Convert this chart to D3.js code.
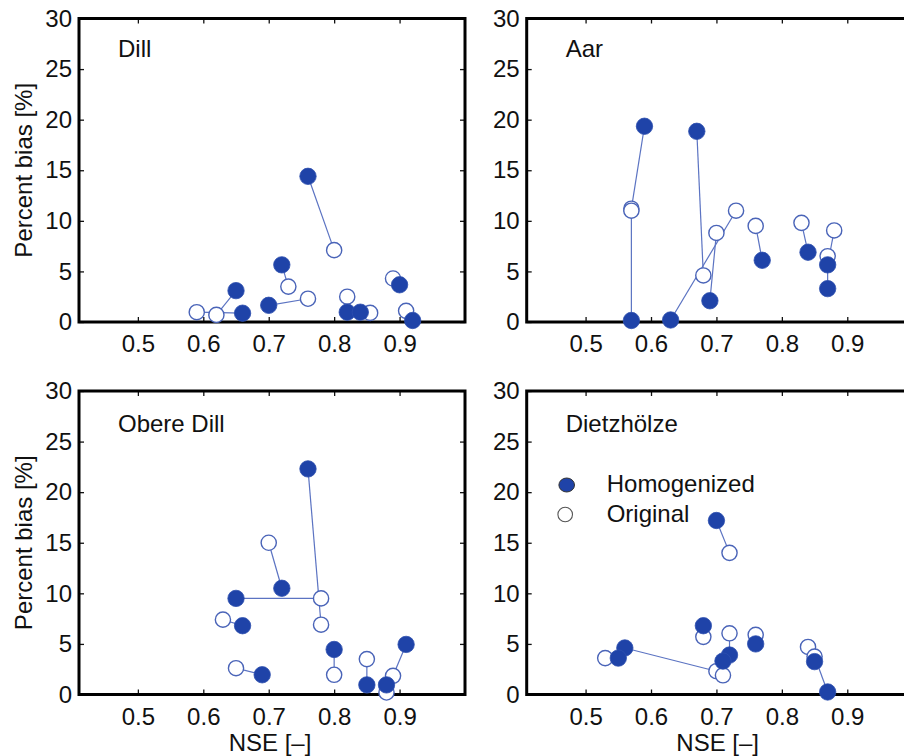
<!DOCTYPE html>
<html>
<head>
<meta charset="utf-8">
<script src="https://cdn.jsdelivr.net/npm/d3@7"></script>
<style>
  html, body { margin: 0; padding: 0; background: #fff; }
  svg { display: block; font-family: "Liberation Sans", Arial, Helvetica, sans-serif; }
</style>
</head>
<body>
<svg id="chart" width="904" height="756"></svg>
<script>
// Catchment names, one panel each
const catchments = ["Dill", "Aar", "Obere Dill", "Dietzhölze"];

// [NSE, percent bias] for each model run; homogenized[i] pairs with original[i]
const dillHomogenized = [[0.76, 14.4], [0.72, 5.65], [0.70, 1.65], [0.65, 3.1], [0.66, 0.87], [0.82, 0.97], [0.84, 0.97], [0.90, 3.68], [0.92, 0.15]];
const dillOriginal    = [[0.80, 7.1], [0.73, 3.5], [0.76, 2.3], [0.62, 0.7], [0.59, 0.97], [0.82, 2.5], [0.855, 0.9], [0.89, 4.3], [0.91, 1.1]];

const aarHomogenized = [[0.59, 19.35], [0.57, 0.15], [0.67, 18.85], [0.69, 2.1], [0.63, 0.2], [0.77, 6.1], [0.84, 6.9], [0.87, 5.65], [0.87, 3.3]];
const aarOriginal    = [[0.57, 11.2], [0.57, 11.0], [0.68, 4.6], [0.70, 8.8], [0.73, 11.0], [0.76, 9.5], [0.83, 9.8], [0.88, 9.05], [0.87, 6.5]];

const obereDillHomogenized = [[0.76, 22.3], [0.65, 9.5], [0.72, 10.5], [0.66, 6.8], [0.69, 1.95], [0.80, 4.45], [0.85, 0.95], [0.88, 0.95], [0.91, 4.95]];
const obereDillOriginal    = [[0.78, 6.9], [0.78, 9.5], [0.70, 15.0], [0.63, 7.4], [0.65, 2.6], [0.80, 1.95], [0.85, 3.5], [0.88, 0.2], [0.89, 1.85]];

const dietzhoelzeHomogenized = [[0.70, 17.2], [0.68, 6.8], [0.56, 4.6], [0.55, 3.6], [0.72, 3.9], [0.71, 3.3], [0.76, 5.0], [0.85, 3.25], [0.87, 0.25]];
const dietzhoelzeOriginal    = [[0.72, 14.0], [0.68, 5.7], [0.70, 2.3], [0.53, 3.6], [0.72, 6.05], [0.71, 1.9], [0.76, 5.9], [0.84, 4.7], [0.85, 3.75]];

// Axis ticks
const nseTicks = [0.5, 0.6, 0.7, 0.8, 0.9];
const biasTicks = [0, 5, 10, 15, 20, 25, 30];

const legendLabels = ["Homogenized", "Original"];
const xTitle = "NSE [–]";
const yTitle = "Percent bias [%]";

const homogenizedSets = [dillHomogenized, aarHomogenized, obereDillHomogenized, dietzhoelzeHomogenized];
const originalSets = [dillOriginal, aarOriginal, obereDillOriginal, dietzhoelzeOriginal];

// Layout
const panelW = 386, panelH = 303.5;
const panelOrigins = [[79, 18.5], [526.7, 18.5], [79, 391], [526.7, 391]];
const fontSize = 24;
const FILL = "#1f43a8", OPEN_STROKE = "#4a64b8", LINK = "#5b73c2";

const svg = d3.select("#chart");
svg.append("rect").attr("width", 904).attr("height", 756).attr("fill", "#fff");

const x = d3.scaleLinear().domain([0.41, 1.0]).range([0, panelW]);
const y = d3.scaleLinear().domain([0, 30]).range([panelH, 0]);

catchments.forEach((name, i) => {
  const [ox, oy] = panelOrigins[i];
  const g = svg.append("g").attr("transform", `translate(${ox},${oy})`);
  const hom = homogenizedSets[i], org = originalSets[i];

  // inward tick marks on all four sides
  const styleAxis = sel => {
    sel.select(".domain").remove();
    sel.selectAll(".tick line").attr("stroke", "#111").attr("stroke-width", 1.3);
    sel.selectAll(".tick text").attr("fill", "#111").style("font-size", fontSize + "px")
      .style("font-family", '"Liberation Sans", Arial, Helvetica, sans-serif');
  };
  g.append("g").attr("transform", `translate(0,${panelH})`)
    .call(d3.axisBottom(x).tickValues(nseTicks).tickFormat(d3.format(".1f")).tickSizeInner(-5).tickSizeOuter(0).tickPadding(13))
    .call(styleAxis);
  g.append("g")
    .call(d3.axisTop(x).tickValues(nseTicks).tickFormat("").tickSizeInner(-5).tickSizeOuter(0))
    .call(styleAxis);
  g.append("g")
    .call(d3.axisLeft(y).tickValues(biasTicks).tickFormat(d3.format("d")).tickSizeInner(-5).tickSizeOuter(0).tickPadding(7))
    .call(styleAxis);
  g.append("g").attr("transform", `translate(${panelW},0)`)
    .call(d3.axisRight(y).tickValues(biasTicks).tickFormat("").tickSizeInner(-5).tickSizeOuter(0))
    .call(styleAxis);

  // frame
  g.append("rect").attr("x", 0).attr("y", 0).attr("width", panelW).attr("height", panelH)
    .attr("fill", "none").attr("stroke", "#000").attr("stroke-width", 3);

  // connecting lines between homogenized and original runs
  g.append("g").selectAll("line").data(d3.range(hom.length)).join("line")
    .attr("x1", k => x(hom[k][0])).attr("y1", k => y(hom[k][1]))
    .attr("x2", k => x(org[k][0])).attr("y2", k => y(org[k][1]))
    .attr("stroke", LINK).attr("stroke-width", 1.2);

  // original runs: open circles
  g.append("g").selectAll("circle").data(org).join("circle")
    .attr("cx", d => x(d[0])).attr("cy", d => y(d[1])).attr("r", 7.6)
    .attr("fill", "#fff").attr("stroke", OPEN_STROKE).attr("stroke-width", 1.4);

  // homogenized runs: filled circles
  g.append("g").selectAll("circle").data(hom).join("circle")
    .attr("cx", d => x(d[0])).attr("cy", d => y(d[1])).attr("r", 8.2)
    .attr("fill", FILL).attr("stroke", "#2d4fae").attr("stroke-width", 0.8);

  // catchment name
  g.append("text").attr("x", 39).attr("y", i < 2 ? 38.5 : 40.5)
    .attr("fill", "#111").style("font-size", fontSize + "px").text(name);

  // axis titles
  if (i % 2 === 0) {
    g.append("text")
      .attr("transform", `translate(${23 - ox + 8.5},${panelH / 2}) rotate(-90)`)
      .attr("text-anchor", "middle").attr("fill", "#111")
      .style("font-size", fontSize + "px").text(yTitle);
  }
  if (i >= 2) {
    g.append("text").attr("x", panelW / 2 - 2).attr("y", 360)
      .attr("text-anchor", "middle").attr("fill", "#111")
      .style("font-size", fontSize + "px").text(xTitle);
  }

  // legend in the last panel
  if (i === 3) {
    const lg = g.append("g").attr("transform", "translate(40,94)");
    lg.append("ellipse").attr("cx", 0).attr("cy", 0).attr("rx", 7.8).attr("ry", 7)
      .attr("fill", FILL).attr("stroke", "#333").attr("stroke-width", 1);
    lg.append("circle").attr("cx", -1.5).attr("cy", 29.5).attr("r", 7.3)
      .attr("fill", "#fff").attr("stroke", "#555").attr("stroke-width", 1.1);
    lg.selectAll("text").data(legendLabels).join("text")
      .attr("x", 40).attr("y", (d, k) => 7 + k * 30)
      .attr("fill", "#111").style("font-size", fontSize + "px").text(d => d);
  }
});
</script>
</body>
</html>
